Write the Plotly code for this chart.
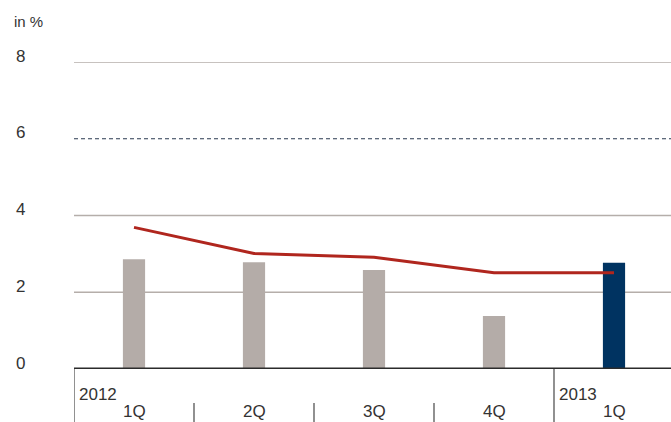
import plotly.graph_objects as go

quarters = ["1Q", "2Q", "3Q", "4Q", "1Q"]
years = ["2012", "2013"]
year_start_idx = [0, 4]
bar_values = [2.86, 2.78, 2.58, 1.38, 2.77]
line_values = [3.69, 3.01, 2.91, 2.51, 2.51]
y_ticks = [0, 2, 4, 6, 8]
solid_grid = [2, 4, 8]
dashed_grid = [6]

GRAY = "#b4aca8"
NAVY = "#003361"
RED = "#b0261e"
TEXT = "#333333"
FONT = "Liberation Sans"

x = list(range(len(quarters)))
bar_colors = [GRAY] * (len(quarters) - 1) + [NAVY]

fig = go.Figure()
fig.add_trace(go.Bar(x=x, y=bar_values, marker=dict(color=bar_colors, line=dict(width=0)),
                     width=0.185, hoverinfo="skip"))
fig.add_trace(go.Scatter(x=x, y=line_values, mode="lines",
                         line=dict(color=RED, width=3), hoverinfo="skip"))

shapes = []
for g in solid_grid:
    shapes.append(dict(type="line", xref="paper", yref="y", x0=0, x1=1, y0=g, y1=g,
                       line=dict(color="#b5aeaa", width=1.3), layer="below"))
for g in dashed_grid:
    shapes.append(dict(type="line", xref="paper", yref="y", x0=0, x1=1, y0=g, y1=g,
                       line=dict(color="#2a3a50", width=1.2, dash="4px,3px"), layer="below"))
# zero line
shapes.append(dict(type="line", xref="paper", yref="y", x0=0, x1=1, y0=0, y1=0,
                   line=dict(color="#2b2b2b", width=3), layer="above"))

# lower axis separators
plot_h = 422 - 62 - 53
def py(p):
    return (369 - p) / plot_h

for i in year_start_idx:
    shapes.append(dict(type="line", xref="x", yref="paper", x0=i - 0.5, x1=i - 0.5,
                       y0=py(369), y1=py(440), line=dict(color="#555555", width=1.3)))
for i in range(len(quarters) - 1):
    if (i + 1) in year_start_idx:
        continue
    shapes.append(dict(type="line", xref="x", yref="paper", x0=i + 0.5, x1=i + 0.5,
                       y0=py(403), y1=py(440), line=dict(color="#555555", width=1.3)))

annotations = []
for q, xi in zip(quarters, x):
    annotations.append(dict(x=xi, y=py(411), xref="x", yref="paper", text=q, showarrow=False,
                            xanchor="center", yanchor="middle",
                            font=dict(family=FONT, size=17, color=TEXT)))
for yr, i in zip(years, year_start_idx):
    annotations.append(dict(x=i - 0.5, y=py(394), xref="x", yref="paper", text=yr, showarrow=False,
                            xanchor="left", yanchor="middle", xshift=3,
                            font=dict(family=FONT, size=17, color=TEXT)))
for t in y_ticks:
    annotations.append(dict(x=(14 - 74) / 597, y=t, xref="paper", yref="y", text=str(t),
                            showarrow=False, xanchor="left", yanchor="middle", yshift=6,
                            font=dict(family=FONT, size=17, color=TEXT)))
annotations.append(dict(x=(12 - 74) / 597, y=py(22), xref="paper", yref="paper", text="in %",
                        showarrow=False, xanchor="left", yanchor="middle",
                        font=dict(family=FONT, size=15, color=TEXT)))

fig.update_layout(
    width=671, height=422,
    margin=dict(l=74, r=0, t=62, b=53),
    paper_bgcolor="white", plot_bgcolor="white",
    showlegend=False,
    xaxis=dict(range=[-0.5, 4.475], showgrid=False, zeroline=False, showticklabels=False,
               ticks="", showline=False, fixedrange=True),
    yaxis=dict(range=[0, 8], showgrid=False, zeroline=False, showticklabels=False,
               ticks="", showline=False, fixedrange=True),
    shapes=shapes,
    annotations=annotations,
)

fig.write_html("out.html", config={"displayModeBar": False})
